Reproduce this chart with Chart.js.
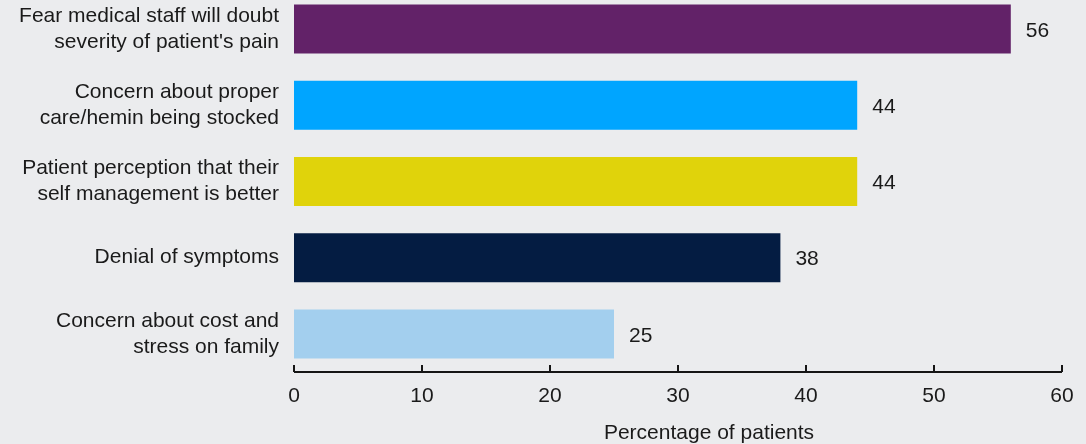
<!DOCTYPE html>
<html>
<head>
<meta charset="utf-8">
<script src="https://cdn.jsdelivr.net/npm/chart.js@4.4.1/dist/chart.umd.min.js"></script>
<style>
  html, body { margin: 0; padding: 0; overflow: hidden; }
  body { width: 1086px; height: 444px; background: #ebecee; position: relative; }
  #wrap { position: absolute; left: 0; top: -9px; width: 1086px; height: 453px; }
</style>
</head>
<body>
<div id="wrap"><canvas id="chart" width="1086" height="453"></canvas></div>
<script>
// Chart data
const categories = [
    ['Fear medical staff will doubt', "severity of patient's pain"],
    ['Concern about proper', 'care/hemin being stocked'],
    ['Patient perception that their', 'self management is better'],
    ['Denial of symptoms'],
    ['Concern about cost and', 'stress on family']
];
const percentages = [56, 44, 44, 38, 25];
const barColors = ['#622268', '#00a5ff', '#e0d30b', '#041c42', '#a3cfee'];
const xTickValues = [0, 10, 20, 30, 40, 50, 60];
const xTitle = 'Percentage of patients';

const FONT = "'Liberation Sans', Arial, sans-serif";
const TEXT = '#1a1a1a';

// draws the bottom axis line with inward ticks, the axis title (sits right of centre
// in the original), plus value labels next to bars
const axisAndLabels = {
    id: 'axisAndLabels',
    afterDatasetsDraw(chart) {
        const ctx = chart.ctx;
        const x = chart.scales.x;
        const area = chart.chartArea;
        const yLine = area.bottom;

        ctx.save();
        ctx.strokeStyle = '#151515';
        ctx.lineWidth = 2;
        ctx.beginPath();
        ctx.moveTo(x.getPixelForValue(0), yLine);
        ctx.lineTo(x.getPixelForValue(60), yLine);
        xTickValues.forEach(v => {
            const px = Math.round(x.getPixelForValue(v));
            ctx.moveTo(px, yLine);
            ctx.lineTo(px, yLine - 7);
        });
        ctx.stroke();

        ctx.fillStyle = TEXT;
        ctx.font = '21px ' + FONT;
        ctx.textAlign = 'left';
        ctx.textBaseline = 'middle';
        chart.getDatasetMeta(0).data.forEach((bar, i) => {
            ctx.fillText(String(percentages[i]), bar.x + 15, bar.y + 2);
        });

        // axis title
        ctx.textAlign = 'center';
        ctx.textBaseline = 'alphabetic';
        ctx.fillText(xTitle, (area.left + area.right) / 2 + 31, x.bottom - 5);
        ctx.restore();
    }
};

new Chart(document.getElementById('chart'), {
    type: 'bar',
    data: {
        labels: categories,
        datasets: [{
            data: percentages,
            backgroundColor: barColors,
            borderWidth: 0,
            categoryPercentage: 1,
            barPercentage: 0.643
        }]
    },
    options: {
        indexAxis: 'y',
        responsive: false,
        animation: false,
        layout: { padding: { top: 0, right: 24, bottom: 0, left: 0 } },
        plugins: {
            legend: { display: false },
            tooltip: { enabled: false }
        },
        scales: {
            x: {
                min: 0,
                max: 60,
                afterFit(scale) { scale.height = 72; },
                grid: { display: false, drawTicks: false },
                border: { display: false },
                ticks: {
                    stepSize: 10,
                    padding: 12,
                    color: TEXT,
                    font: { family: FONT, size: 21 }
                },
                title: { display: false }
            },
            y: {
                afterFit(scale) {
                    scale.width = 294;
                    scale.paddingTop = 0;
                    scale.paddingBottom = 0;
                },
                grid: { display: false, drawTicks: false },
                border: { display: false },
                ticks: {
                    padding: 15,
                    color: TEXT,
                    autoSkip: false,
                    font: { family: FONT, size: 21, lineHeight: 1.24 }
                }
            }
        }
    },
    plugins: [axisAndLabels]
});
</script>
</body>
</html>
